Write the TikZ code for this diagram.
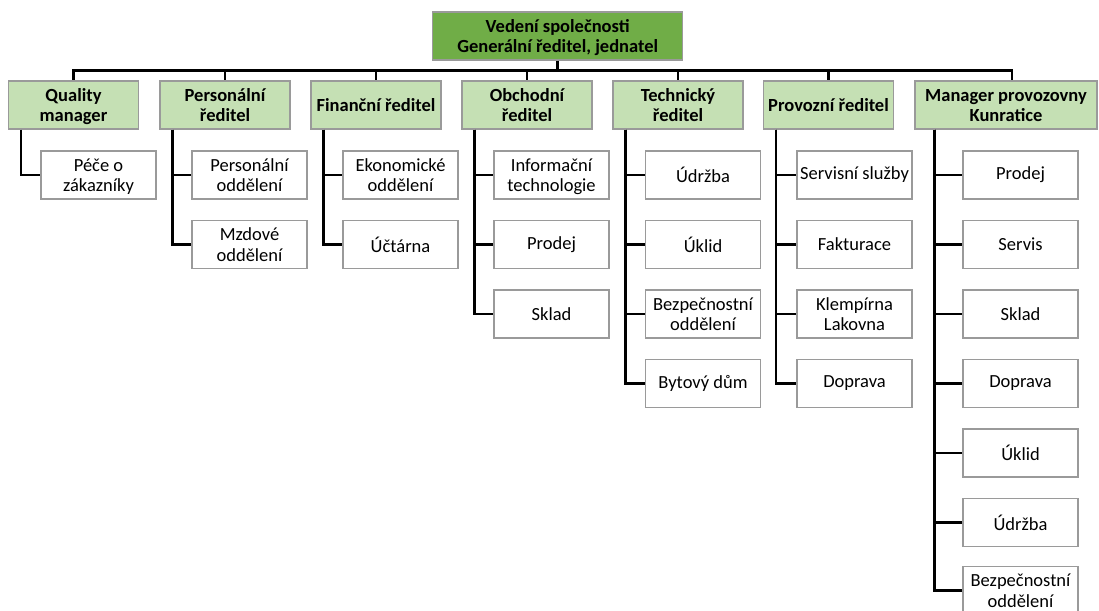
\documentclass[tikz,border=0pt]{standalone}
\usepackage{fontspec}
\setmainfont{Carlito}
\definecolor{topgreen}{HTML}{70AD47}
\definecolor{lightgreen}{HTML}{C5E0B4}
\definecolor{boxgray}{HTML}{9A9A9A}
\newcommand\twoline[2]{\rule{0pt}{18pt}#1\\#2\rule[-5.5pt]{0pt}{5.5pt}}
\begin{document}
\begin{tikzpicture}[x=1pt,y=-1pt,
  basebox/.style={draw=boxgray,line width=1.2pt,align=center,inner sep=0pt,minimum height=48pt,
     font=\fontsize{18.5}{20.5}\selectfont},
  topbox/.style={basebox,fill=topgreen,minimum width=250pt,font=\bfseries\fontsize{18.5}{20.5}\selectfont},
  headbox/.style={basebox,fill=lightgreen,minimum width=130pt,font=\bfseries\fontsize{18.5}{20.5}\selectfont},
  childbox/.style={basebox,fill=white,minimum width=115pt},
  conn/.style={draw=black,line width=2.8pt}]
\useasboundingbox (0,0) rectangle (1099,610);
\node[topbox] (top) at (557.7,36) {\twoline{Vedení společnosti}{Generální ředitel, jednatel}};
\coordinate (bus) at (0,70.7);
% level 1
\node[headbox] (q) at (73.5,105) {\twoline{Quality}{manager}};
\node[headbox] (p) at (225,105) {\twoline{Personální}{ředitel}};
\node[headbox] (f) at (376,105) {Finanční ředitel};
\node[headbox] (o) at (527,105) {\twoline{Obchodní}{ředitel}};
\node[headbox] (t) at (678,105) {\twoline{Technický}{ředitel}};
\node[headbox] (pr) at (828.5,105) {Provozní ředitel};
\node[headbox,minimum width=182pt] (m) at (1006,105) {\twoline{Manager provozovny}{Kunratice}};
% children
\node[childbox] (q1) at (98.5,175) {\twoline{Péče o}{zákazníky}};
\node[childbox] (p1) at (249.5,175) {\twoline{Personální}{oddělení}};
\node[childbox] (p2) at (249.5,244.5) {\twoline{Mzdové}{oddělení}};
\node[childbox] (f1) at (400.5,175) {\twoline{Ekonomické}{oddělení}};
\node[childbox] (f2) at (400.5,244.5) {Účtárna};
\node[childbox] (o1) at (551.5,175) {\twoline{Informační}{technologie}};
\node[childbox] (o2) at (551.5,244.5) {Prodej};
\node[childbox] (o3) at (551.5,314) {Sklad};
\node[childbox] (t1) at (703,175) {Údržba};
\node[childbox] (t2) at (703,244.5) {Úklid};
\node[childbox] (t3) at (703,314) {\twoline{Bezpečnostní}{oddělení}};
\node[childbox] (t4) at (703,383.5) {Bytový dům};
\node[childbox] (r1) at (854.5,175) {Servisní služby};
\node[childbox] (r2) at (854.5,244.5) {Fakturace};
\node[childbox] (r3) at (854.5,314) {\twoline{Klempírna}{Lakovna}};
\node[childbox] (r4) at (854.5,383.5) {Doprava};
\node[childbox] (m1) at (1020.5,175) {Prodej};
\node[childbox] (m2) at (1020.5,244.5) {Servis};
\node[childbox] (m3) at (1020.5,314) {Sklad};
\node[childbox] (m4) at (1020.5,383.5) {Doprava};
\node[childbox] (m5) at (1020.5,453) {Úklid};
\node[childbox] (m6) at (1020.5,522.5) {Údržba};
\node[childbox] (m7) at (1020.5,590.5) {\twoline{Bezpečnostní}{oddělení}};
% bus
\draw[conn] (top.south) -- (top.south |- bus);
\draw[conn,line cap=rect] (q.north |- bus) -- ([xshift=6pt]m.north |- bus);
\foreach \n in {q,p,f,o,t,pr}{\draw[conn] (\n.north |- bus) -- (\n.north);}
\draw[conn] ([xshift=6pt]m.north |- bus) -- ([xshift=6pt]m.north);
% child connectors
\draw[conn] ([xshift=13pt]q.south west) |- (q1.west);
\foreach \c in {p1,p2}{\draw[conn] ([xshift=13pt]p.south west) |- (\c.west);}
\foreach \c in {f1,f2}{\draw[conn] ([xshift=13pt]f.south west) |- (\c.west);}
\foreach \c in {o1,o2,o3}{\draw[conn] ([xshift=13pt]o.south west) |- (\c.west);}
\foreach \c in {t1,t2,t3,t4}{\draw[conn] ([xshift=13pt]t.south west) |- (\c.west);}
\foreach \c in {r1,r2,r3,r4}{\draw[conn] ([xshift=13pt]pr.south west) |- (\c.west);}
\foreach \c in {m1,m2,m3,m4,m5,m6,m7}{\draw[conn] ([xshift=20pt]m.south west) |- (\c.west);}
\end{tikzpicture}
\end{document}
